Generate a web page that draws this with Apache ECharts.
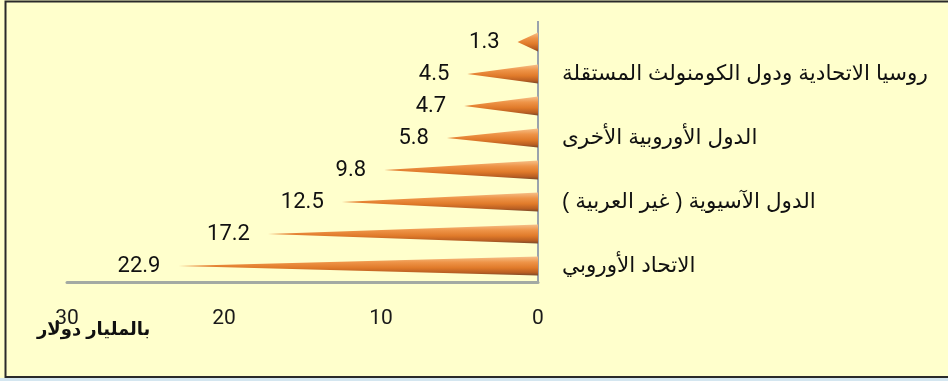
<!DOCTYPE html>
<html>
<head>
<meta charset="utf-8">
<script src="https://cdn.jsdelivr.net/npm/echarts@6/dist/echarts.min.js"></script>
<style>
html,body{margin:0;padding:0;background:#FFFFCC;}
#c{width:948px;height:381px;}
</style>
</head>
<body>
<div id="c"></div>
<script>
// Categories from bottom to top (only every other label visible in the reference)
const categories = [
  'الاتحاد الأوروبي',
  '',
  'الدول الآسيوية ( غير العربية )',
  ' ',
  'الدول الأوروبية الأخرى',
  '  ',
  'روسيا الاتحادية ودول الكومنولث المستقلة',
  '   '
];
const values = [22.9, 17.2, 12.5, 9.8, 5.8, 4.7, 4.5, 1.3];
const axisTicks = [0, 10, 20, 30];
const unitLabel = 'بالمليار دولار';

const chart = echarts.init(document.getElementById('c'), null, {renderer: 'canvas'});
const numFont = 'Roboto, "Open Sans", sans-serif';
const arFont = 'Arial, "DejaVu Sans", sans-serif';

chart.setOption({
  backgroundColor: '#FFFFCC',
  animation: false,
  grid: {left: 67, right: 410, top: 26, bottom: 99},
  xAxis: {
    type: 'value',
    inverse: true,
    min: axisTicks[0],
    max: axisTicks[axisTicks.length - 1],
    interval: 10,
    axisLine: {show: true, lineStyle: {color: '#A3AAA3', width: 3}},
    axisTick: {show: false},
    splitLine: {show: false},
    axisLabel: {margin: 26, fontSize: 21, color: '#1a1a1a', fontFamily: numFont}
  },
  yAxis: {
    type: 'category',
    position: 'right',
    data: categories,
    axisLine: {show: true, onZero: false, lineStyle: {color: '#9AA3AD', width: 2}},
    axisTick: {show: false},
    axisLabel: {interval: 1, margin: 24, fontSize: 21.5, color: '#111', fontFamily: arFont, padding: [8, 0, 0, 0]}
  },
  series: [{
    type: 'pictorialBar',
    data: values,
    symbol: 'path://M0,0 L100,5 L0,10 Z',
    symbolSize: ['100%', 19],
    symbolRepeat: false,
    itemStyle: {
      color: {
        type: 'linear', x: 0, y: 0, x2: 0, y2: 1,
        colorStops: [
          {offset: 0, color: '#F6C08A'},
          {offset: 0.3, color: '#EE9448'},
          {offset: 0.6, color: '#E07A2A'},
          {offset: 0.85, color: '#B85E22'},
          {offset: 1, color: '#7A4A2A'}
        ]
      }
    },
    label: {
      show: true,
      position: 'left',
      distance: 18,
      fontSize: 22,
      color: '#111',
      fontFamily: numFont,
      padding: [4, 0, 0, 0],
      formatter: p => p.value.toFixed(1)
    }
  }],
  graphic: [
    {type: 'line', silent: true, shape: {x1: 538, y1: 21, x2: 538, y2: 27},
      style: {stroke: '#9AA3AD', lineWidth: 2}},
    {type: 'rect', silent: true, shape: {x: 5.5, y: 1.5, width: 1000, height: 375.5},
      style: {fill: 'none', stroke: '#2a2a2a', lineWidth: 2}},
    {type: 'rect', silent: true, shape: {x: 0, y: 378, width: 948, height: 3},
      style: {fill: '#D4E6F0'}},
    {type: 'text', left: 37, top: 321, silent: true,
      style: {text: unitLabel, font: 'bold 18px Arial, "DejaVu Sans", sans-serif', fill: '#111'}}
  ]
});
</script>
</body>
</html>
